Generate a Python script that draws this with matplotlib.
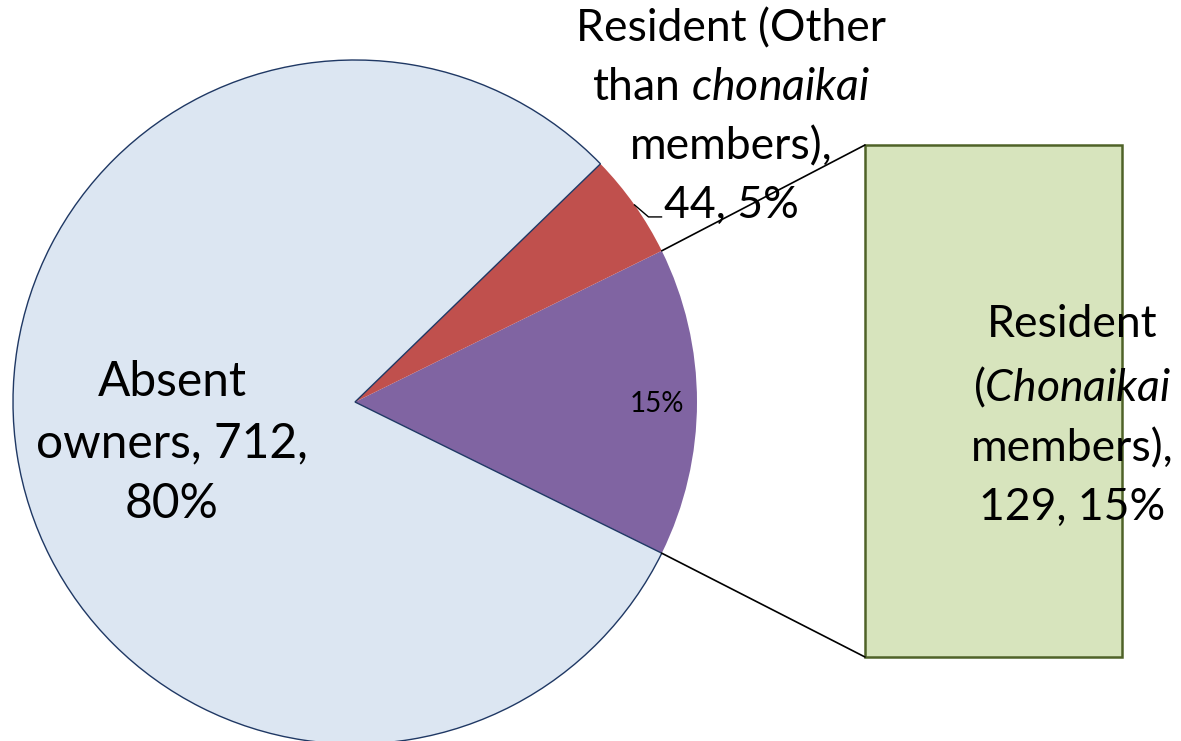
import numpy as np
import matplotlib.pyplot as plt
from matplotlib.patches import ConnectionPatch

plt.rcParams["font.family"] = ["Lato", "DejaVu Sans"]
plt.rcParams["mathtext.fontset"] = "custom"
plt.rcParams["mathtext.rm"] = "Lato"
plt.rcParams["mathtext.it"] = "Lato:italic"

# data
labels = ["Resident (Chonaikai members)", "Resident (Other than chonaikai members)", "Absent owners"]
counts = [129, 44, 712]
shares = ["15%", "5%", "80%"]
colors = ["#8064A2", "#C0504D", "#DCE6F2"]

W, H = 1181, 741
FS = 32
LS = 1.54


def py(y):
    # pixel row (top-down) -> data y
    return H - y


fig = plt.figure(figsize=(W / 100, H / 100), dpi=100)
ax = fig.add_axes([0, 0, 1, 1])

center = (355, py(402))
radius = 342
total = sum(counts)
start = -counts[0] / total * 360 / 2

wedges, _ = ax.pie(
    counts,
    colors=colors,
    startangle=start,
    center=center,
    radius=radius,
    frame=True,
    wedgeprops=dict(linewidth=0),
)
ax.set_xlim(0, W)
ax.set_ylim(0, H)
ax.axis("off")
# outline of the big slice
wedges[2].set_edgecolor("#1F3864")
wedges[2].set_linewidth(1.0)

# labels on pie
ax.text(172, py(443), "Absent\nowners, %d,\n%s" % (counts[2], shares[2]),
        ha="center", va="center", fontsize=34.5, linespacing=1.48)
ax.text(657, py(404), shares[0], ha="center", va="center", fontsize=20)
ax.text(731, py(117), "Resident (Other\nthan $\\mathit{chonaikai}$\nmembers),\n%d, %s" % (counts[1], shares[1]),
        ha="center", va="center", fontsize=FS, linespacing=LS)

# leader line for small slice
w = wedges[1]
mid = np.deg2rad((w.theta1 + w.theta2) / 2)
x0 = center[0] + radius * np.cos(mid)
y0 = center[1] + radius * np.sin(mid)
ax.plot([x0, x0 + 14, x0 + 27], [y0, y0 - 12, y0 - 12], color="black", lw=1)

# bar of the resident (chonaikai) slice
ax2 = fig.add_axes([865 / W, py(657) / H, 257 / W, 512 / H])
ax2.bar(0, counts[0], width=1, color="#D7E4BD", edgecolor="#4F6228", linewidth=1.8, clip_on=False)
ax2.set_xlim(-0.5, 0.5)
ax2.set_ylim(0, counts[0])
ax2.axis("off")

# connecting lines
w = wedges[0]
for theta, yb in [(w.theta2, counts[0]), (w.theta1, 0)]:
    t = np.deg2rad(theta)
    xa = center[0] + radius * np.cos(t)
    ya = center[1] + radius * np.sin(t)
    con = ConnectionPatch(xyA=(-0.5, yb), coordsA=ax2.transData,
                          xyB=(xa, ya), coordsB=ax.transData,
                          color="black", linewidth=1.2)
    fig.add_artist(con)

fig.text(1072 / W, py(416) / H, "Resident\n($\\mathit{Chonaikai}$\nmembers),\n%d, %s" % (counts[0], shares[0]),
         ha="center", va="center", fontsize=FS, linespacing=LS)

fig.savefig("out.png", dpi=100)
